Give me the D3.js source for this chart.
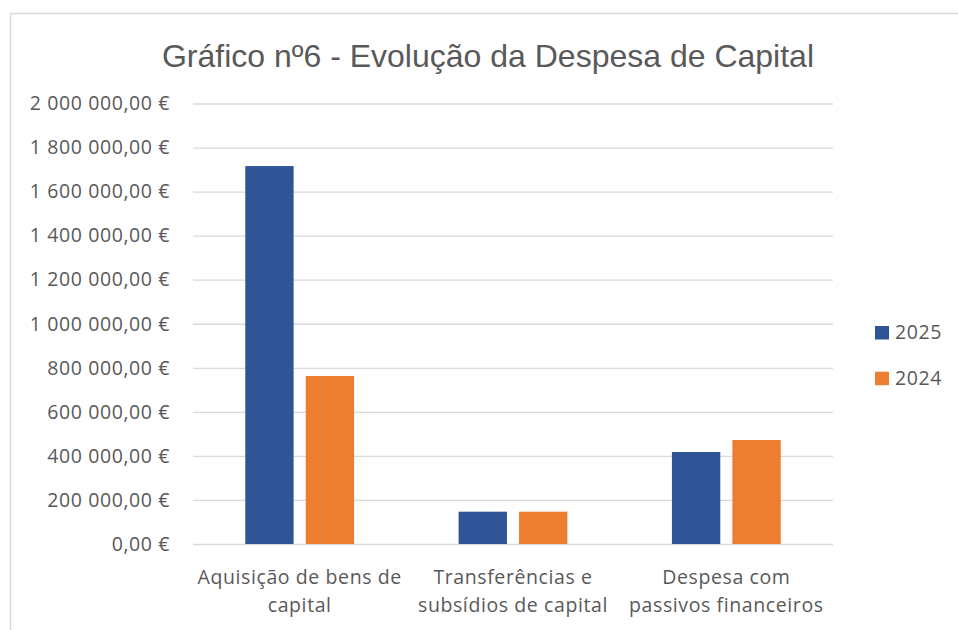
<!DOCTYPE html>
<html>
<head>
<meta charset="utf-8">
<script src="https://cdn.jsdelivr.net/npm/d3@7"></script>
<style>
  html, body { margin: 0; padding: 0; background: #fff; }
  svg { display: block; }
</style>
</head>
<body>
<svg id="chart" width="958" height="630"></svg>
<script>
/* ---- data -------------------------------------------------------- */
const categories = [
  "Aquisição de bens de capital",
  "Transferências e subsídios de capital",
  "Despesa com passivos financeiros"
];
// how each category label breaks across two lines
const categoryLines = [
  ["Aquisição de bens de", "capital"],
  ["Transferências e", "subsídios de capital"],
  ["Despesa com", "passivos financeiros"]
];
const seriesNames  = ["2025", "2024"];
const values2025   = [1716000, 146700, 417700];
const values2024   = [762800, 146700, 472200];
const yTicks       = [0, 200000, 400000, 600000, 800000, 1000000,
                      1200000, 1400000, 1600000, 1800000, 2000000];
const seriesColours = ["#2F5597", "#ED7D31"];

const rows = categories.map((c, i) => ({
  cat: c,
  values: [values2025[i], values2024[i]]
}));

/* ---- layout ------------------------------------------------------ */
const W = 958, H = 630;
const plot = { left: 193, right: 833, top: 103.5, bottom: 544 };
const textColour = "#595959";
const axisFont = "'Open Sans', 'Noto Sans', sans-serif";
const axisSize = 19.5;
const axisSpacing = 0.6;

const svg = d3.select("#chart");

// outer chart frame (runs off the right and bottom edge)
svg.append("rect")
  .attr("x", 10.5).attr("y", 13.5)
  .attr("width", W + 20).attr("height", H + 20)
  .attr("fill", "#fff")
  .attr("stroke", "#d9d9d9")
  .attr("stroke-width", 1.5);

/* ---- scales ------------------------------------------------------ */
const y = d3.scaleLinear([0, 2000000], [plot.bottom, plot.top]);

const x0 = d3.scaleBand(categories, [plot.left, plot.right])
  .paddingInner(0.49)
  .paddingOuter(0.245);

const x1 = d3.scaleBand(seriesNames, [0, x0.bandwidth()])
  .paddingInner(0.2);

const euro = d3.formatLocale({
  decimal: ",", thousands: " ", grouping: [3], currency: ["", " €"]
}).format("$,.2f");

/* ---- title ------------------------------------------------------- */
svg.append("text")
  .attr("x", 488)
  .attr("y", 67)
  .attr("text-anchor", "middle")
  .attr("font-family", "'Liberation Sans', Arial, sans-serif")
  .attr("font-size", 32)
  .attr("fill", textColour)
  .text("Gráfico nº6 - Evolução da Despesa de Capital");

/* ---- y axis + gridlines ----------------------------------------- */
const yAxis = svg.append("g")
  .attr("transform", `translate(${plot.left},0)`)
  .call(d3.axisLeft(y)
    .tickValues(yTicks)
    .tickFormat(euro)
    .tickSize(-(plot.right - plot.left))
    .tickPadding(23));

yAxis.select(".domain").remove();
yAxis.selectAll(".tick line")
  .attr("stroke", "#d9d9d9")
  .attr("stroke-width", 1.3);
yAxis.selectAll(".tick text")
  .attr("font-family", axisFont)
  .attr("font-size", axisSize)
  .attr("letter-spacing", axisSpacing)
  .attr("fill", textColour);

/* ---- bars -------------------------------------------------------- */
const groups = svg.append("g")
  .selectAll("g")
  .data(rows)
  .join("g")
    .attr("transform", d => `translate(${x0(d.cat)},0)`);

groups.selectAll("rect")
  .data(d => d.values.map((v, i) => ({ name: seriesNames[i], value: v, i })))
  .join("rect")
    .attr("x", d => x1(d.name))
    .attr("y", d => y(d.value))
    .attr("width", x1.bandwidth())
    .attr("height", d => y(0) - y(d.value))
    .attr("fill", d => seriesColours[d.i]);

/* ---- x axis labels (two lines each) ----------------------------- */
const xAxis = svg.append("g")
  .attr("transform", `translate(0,${plot.bottom})`)
  .call(d3.axisBottom(x0).tickSize(0).tickPadding(0));

xAxis.select(".domain").remove();
xAxis.selectAll(".tick text").each(function (d, i) {
  const t = d3.select(this)
    .text(null)
    .attr("y", 0)
    .attr("dy", null)
    .attr("font-family", axisFont)
    .attr("font-size", axisSize)
    .attr("letter-spacing", axisSpacing)
    .attr("fill", textColour);
  categoryLines[i].forEach((line, k) => {
    t.append("tspan")
      .attr("x", 0)
      .attr("y", 40 + k * 27.5)
      .text(line);
  });
});

/* ---- legend ------------------------------------------------------ */
const legend = svg.append("g")
  .selectAll("g")
  .data(seriesNames)
  .join("g")
    .attr("transform", (d, i) => `translate(875,${326 + i * 45.7})`);

legend.append("rect")
  .attr("width", 14)
  .attr("height", 13.5)
  .attr("fill", (d, i) => seriesColours[i]);

legend.append("text")
  .attr("x", 20)
  .attr("y", 13)
  .attr("font-family", axisFont)
  .attr("font-size", axisSize)
  .attr("letter-spacing", axisSpacing)
  .attr("fill", textColour)
  .text(d => d);
</script>
</body>
</html>
